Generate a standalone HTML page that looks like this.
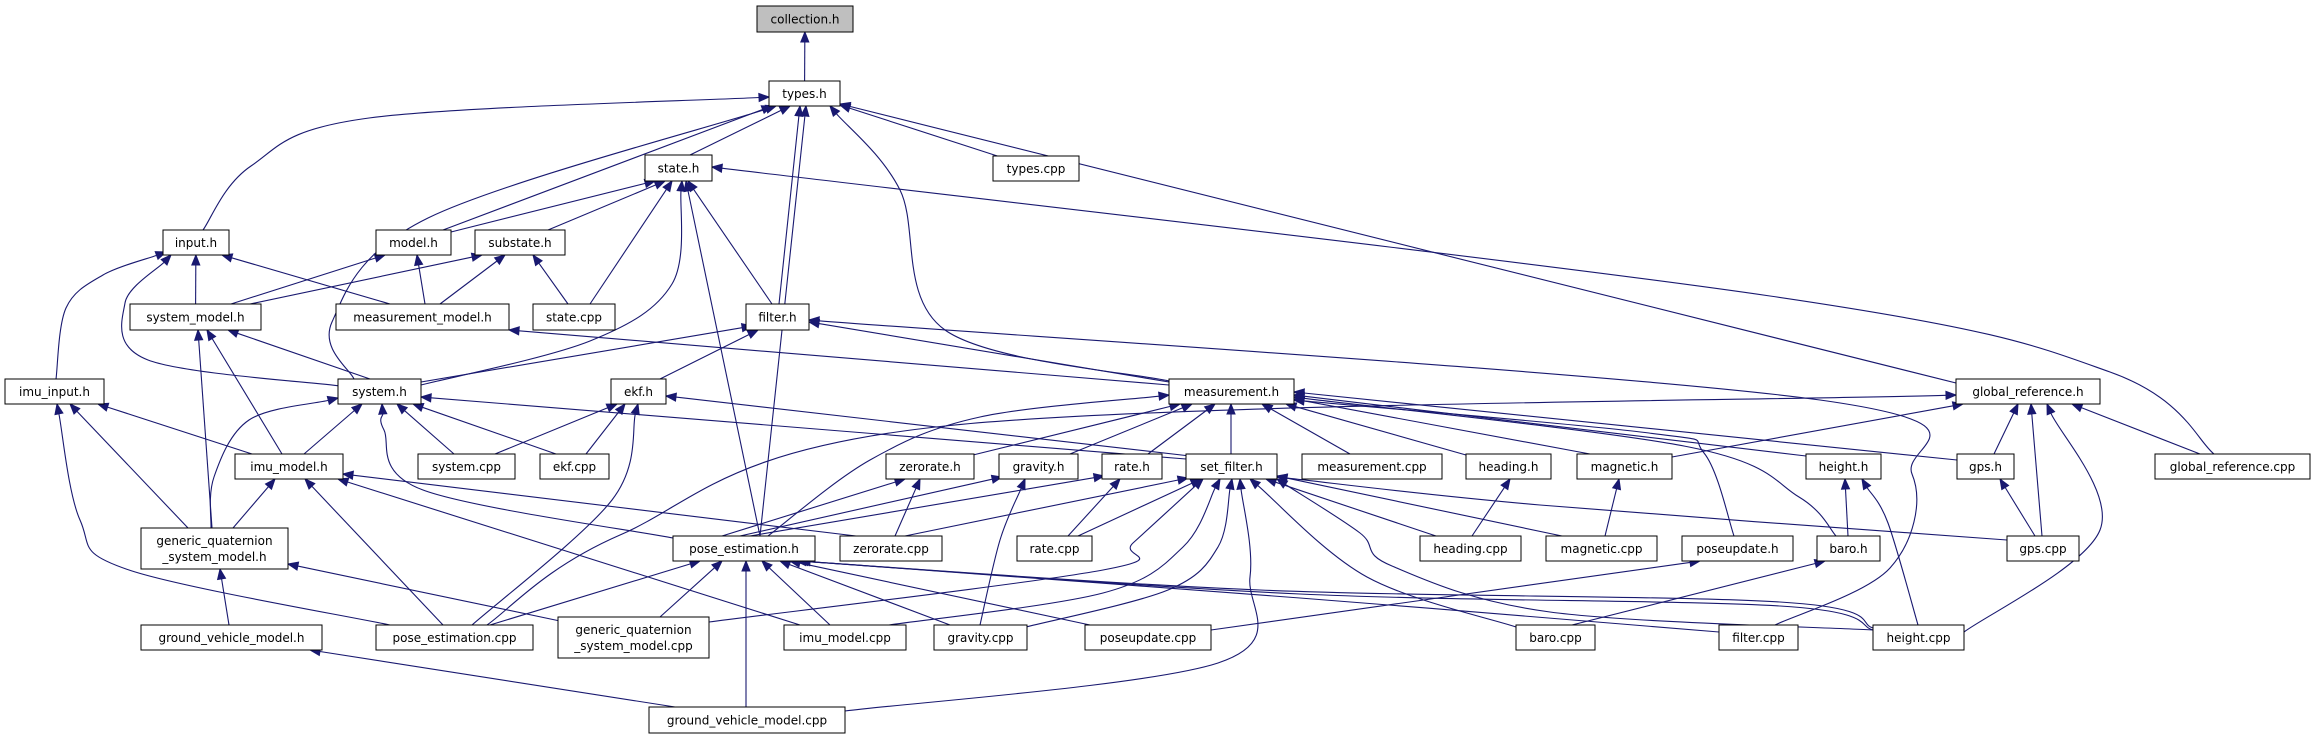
<!DOCTYPE html>
<html><head><meta charset="utf-8">
<style>
html,body{margin:0;padding:0;background:#fff;}
svg{display:block;}
text{font-family:"DejaVu Sans","Liberation Sans",sans-serif;font-size:12px;fill:#000;}
</style></head>
<body>
<svg id="g" width="2315" height="739" viewBox="0 0 2315 739" xmlns="http://www.w3.org/2000/svg">
<g id="edges"></g>
<g id="nodes" font-family="DejaVu Sans, Liberation Sans, sans-serif">
<rect x="757" y="6" width="96" height="26" fill="#bfbfbf" stroke="#000"/><text x="805" y="23.5" text-anchor="middle">collection.h</text>
<rect x="769" y="81" width="71" height="25" fill="#fff" stroke="#000"/><text x="804.5" y="98" text-anchor="middle">types.h</text>
<rect x="645" y="155" width="67" height="26" fill="#fff" stroke="#000"/><text x="678.5" y="172.5" text-anchor="middle">state.h</text>
<rect x="993" y="156" width="86" height="25" fill="#fff" stroke="#000"/><text x="1036" y="173" text-anchor="middle">types.cpp</text>
<rect x="163" y="230" width="66" height="25" fill="#fff" stroke="#000"/><text x="196" y="247" text-anchor="middle">input.h</text>
<rect x="376" y="230" width="75" height="25" fill="#fff" stroke="#000"/><text x="413.5" y="247" text-anchor="middle">model.h</text>
<rect x="475" y="230" width="90" height="25" fill="#fff" stroke="#000"/><text x="520" y="247" text-anchor="middle">substate.h</text>
<rect x="130" y="304" width="131" height="26" fill="#fff" stroke="#000"/><text x="195.5" y="321.5" text-anchor="middle">system_model.h</text>
<rect x="336" y="304" width="173" height="26" fill="#fff" stroke="#000"/><text x="422.5" y="321.5" text-anchor="middle">measurement_model.h</text>
<rect x="533" y="304" width="82" height="26" fill="#fff" stroke="#000"/><text x="574" y="321.5" text-anchor="middle">state.cpp</text>
<rect x="746" y="304" width="63" height="26" fill="#fff" stroke="#000"/><text x="777.5" y="321.5" text-anchor="middle">filter.h</text>
<rect x="5" y="379" width="99" height="25" fill="#fff" stroke="#000"/><text x="54.5" y="396" text-anchor="middle">imu_input.h</text>
<rect x="338" y="379" width="83" height="25" fill="#fff" stroke="#000"/><text x="379.5" y="396" text-anchor="middle">system.h</text>
<rect x="611" y="379" width="55" height="25" fill="#fff" stroke="#000"/><text x="638.5" y="396" text-anchor="middle">ekf.h</text>
<rect x="1169" y="379" width="125" height="25" fill="#fff" stroke="#000"/><text x="1231.5" y="396" text-anchor="middle">measurement.h</text>
<rect x="1956" y="379" width="144" height="25" fill="#fff" stroke="#000"/><text x="2028" y="396" text-anchor="middle">global_reference.h</text>
<rect x="235" y="454" width="108" height="25" fill="#fff" stroke="#000"/><text x="289" y="471" text-anchor="middle">imu_model.h</text>
<rect x="418" y="454" width="97" height="25" fill="#fff" stroke="#000"/><text x="466.5" y="471" text-anchor="middle">system.cpp</text>
<rect x="540" y="454" width="69" height="25" fill="#fff" stroke="#000"/><text x="574.5" y="471" text-anchor="middle">ekf.cpp</text>
<rect x="886" y="454" width="88" height="25" fill="#fff" stroke="#000"/><text x="930" y="471" text-anchor="middle">zerorate.h</text>
<rect x="999" y="454" width="79" height="25" fill="#fff" stroke="#000"/><text x="1038.5" y="471" text-anchor="middle">gravity.h</text>
<rect x="1102" y="454" width="60" height="25" fill="#fff" stroke="#000"/><text x="1132" y="471" text-anchor="middle">rate.h</text>
<rect x="1186" y="454" width="91" height="25" fill="#fff" stroke="#000"/><text x="1231.5" y="471" text-anchor="middle">set_filter.h</text>
<rect x="1302" y="454" width="140" height="25" fill="#fff" stroke="#000"/><text x="1372" y="471" text-anchor="middle">measurement.cpp</text>
<rect x="1466" y="454" width="85" height="25" fill="#fff" stroke="#000"/><text x="1508.5" y="471" text-anchor="middle">heading.h</text>
<rect x="1577" y="454" width="95" height="25" fill="#fff" stroke="#000"/><text x="1624.5" y="471" text-anchor="middle">magnetic.h</text>
<rect x="1806" y="454" width="75" height="25" fill="#fff" stroke="#000"/><text x="1843.5" y="471" text-anchor="middle">height.h</text>
<rect x="1957" y="454" width="57" height="25" fill="#fff" stroke="#000"/><text x="1985.5" y="471" text-anchor="middle">gps.h</text>
<rect x="2155" y="454" width="155" height="25" fill="#fff" stroke="#000"/><text x="2232.5" y="471" text-anchor="middle">global_reference.cpp</text>
<rect x="141" y="528" width="147" height="41" fill="#fff" stroke="#000"/><text x="214.5" y="545" text-anchor="middle">generic_quaternion</text><text x="214.5" y="561" text-anchor="middle">_system_model.h</text>
<rect x="673" y="536" width="142" height="25" fill="#fff" stroke="#000"/><text x="744" y="553" text-anchor="middle">pose_estimation.h</text>
<rect x="840" y="536" width="102" height="25" fill="#fff" stroke="#000"/><text x="891" y="553" text-anchor="middle">zerorate.cpp</text>
<rect x="1017" y="536" width="75" height="25" fill="#fff" stroke="#000"/><text x="1054.5" y="553" text-anchor="middle">rate.cpp</text>
<rect x="1420" y="536" width="101" height="25" fill="#fff" stroke="#000"/><text x="1470.5" y="553" text-anchor="middle">heading.cpp</text>
<rect x="1546" y="536" width="111" height="25" fill="#fff" stroke="#000"/><text x="1601.5" y="553" text-anchor="middle">magnetic.cpp</text>
<rect x="1682" y="536" width="111" height="25" fill="#fff" stroke="#000"/><text x="1737.5" y="553" text-anchor="middle">poseupdate.h</text>
<rect x="1817" y="536" width="63" height="25" fill="#fff" stroke="#000"/><text x="1848.5" y="553" text-anchor="middle">baro.h</text>
<rect x="2007" y="536" width="72" height="25" fill="#fff" stroke="#000"/><text x="2043" y="553" text-anchor="middle">gps.cpp</text>
<rect x="141" y="625" width="181" height="25" fill="#fff" stroke="#000"/><text x="231.5" y="642" text-anchor="middle">ground_vehicle_model.h</text>
<rect x="376" y="625" width="157" height="25" fill="#fff" stroke="#000"/><text x="454.5" y="642" text-anchor="middle">pose_estimation.cpp</text>
<rect x="558" y="617" width="151" height="41" fill="#fff" stroke="#000"/><text x="633.5" y="634" text-anchor="middle">generic_quaternion</text><text x="633.5" y="650" text-anchor="middle">_system_model.cpp</text>
<rect x="784" y="625" width="122" height="25" fill="#fff" stroke="#000"/><text x="845" y="642" text-anchor="middle">imu_model.cpp</text>
<rect x="934" y="625" width="93" height="25" fill="#fff" stroke="#000"/><text x="980.5" y="642" text-anchor="middle">gravity.cpp</text>
<rect x="1085" y="625" width="126" height="25" fill="#fff" stroke="#000"/><text x="1148" y="642" text-anchor="middle">poseupdate.cpp</text>
<rect x="1516" y="625" width="79" height="25" fill="#fff" stroke="#000"/><text x="1555.5" y="642" text-anchor="middle">baro.cpp</text>
<rect x="1719" y="625" width="79" height="25" fill="#fff" stroke="#000"/><text x="1758.5" y="642" text-anchor="middle">filter.cpp</text>
<rect x="1873" y="625" width="91" height="25" fill="#fff" stroke="#000"/><text x="1918.5" y="642" text-anchor="middle">height.cpp</text>
<rect x="649" y="707" width="196" height="26" fill="#fff" stroke="#000"/><text x="747" y="724.5" text-anchor="middle">ground_vehicle_model.cpp</text>
</g>
</svg>
<script>
var N={
collection:[757,6,853,32],types:[769,81,840,106],state:[645,155,712,181],typescpp:[993,156,1079,181],
input:[163,230,229,255],model:[376,230,451,255],substate:[475,230,565,255],
system_model:[130,304,261,330],measurement_model:[336,304,509,330],statecpp:[533,304,615,330],filter:[746,304,809,330],
imu_input:[5,379,104,404],system:[338,379,421,404],ekf:[611,379,666,404],measurement:[1169,379,1294,404],global_reference:[1956,379,2100,404],
imu_model:[235,454,343,479],systemcpp:[418,454,515,479],ekfcpp:[540,454,609,479],zerorate:[886,454,974,479],gravity:[999,454,1078,479],
rate:[1102,454,1162,479],set_filter:[1186,454,1277,479],measurementcpp:[1302,454,1442,479],heading:[1466,454,1551,479],
magnetic:[1577,454,1672,479],height:[1806,454,1881,479],gps:[1957,454,2014,479],grcpp:[2155,454,2310,479],
gqsm_h:[141,528,288,569],pose:[673,536,815,561],zeroratecpp:[840,536,942,561],ratecpp:[1017,536,1092,561],
headingcpp:[1420,536,1521,561],magneticcpp:[1546,536,1657,561],poseupdate:[1682,536,1793,561],baro:[1817,536,1880,561],gpscpp:[2007,536,2079,561],
gvm_h:[141,625,322,650],posecpp:[376,625,533,650],gqsm_cpp:[558,617,709,658],imu_model_cpp:[784,625,906,650],
gravitycpp:[934,625,1027,650],poseupdatecpp:[1085,625,1211,650],barocpp:[1516,625,1595,650],filtercpp:[1719,625,1798,650],
heightcpp:[1873,625,1964,650],gvm_cpp:[649,707,845,733]};
var E=[
['types','collection'],
['state','types',[],[690,155],[790,106]],
['typescpp','types'],
['input','types',[[251,166],[369,118]],[203,230],[769,97]],
['model','types',[],[443,230],[772,106]],
['system','types',[[332,322],[428,218]],[354,379],[776,106]],
['filter','types',[],[779,304],[800,106]],
['pose','types',[],[760,536],[806,106]],
['measurement','types',[[945,330],[900,190]],[1169,381],[830,106]],
['global_reference','types',[],[1956,383],[840,104]],
['grcpp','state',[[2110,372],[1770,296]],[2214,454],[712,167]],
['model','state',[],[451,232],[655,181]],
['substate','state',[],[548,230],[665,181]],
['statecpp','state',[],[590,304],[672,181]],
['filter','state',[],[772,304],[688,181]],
['system','state',[[590,341],[672,284]],[421,385],[682,181]],
['pose','state',[],[760,536],[686,181]],
['system_model','input'],
['measurement_model','input',[],[390,304],[222,255]],
['system','input',[[148,360],[125,303]],[340,386],[171,255]],
['imu_input','input',[[66,308],[103,275]],[56,379],[166,252]],
['system_model','model',[],[231,304],[385,255]],
['measurement_model','model',[],[425,304],[417,255]],
['system_model','substate',[],[250,304],[482,255]],
['measurement_model','substate',[],[440,304],[505,255]],
['statecpp','substate',[],[568,304],[533,255]],
['system','system_model',[],[370,379],[228,330]],
['gqsm_h','system_model',[],[212,528],[198,330]],
['imu_model','system_model',[],[282,454],[207,330]],
['measurement','measurement_model',[],[1169,385],[509,330]],
['system','filter',[],[421,382],[752,326]],
['ekf','filter',[],[660,379],[758,330]],
['measurement','filter',[],[1169,382],[809,322]],
['filtercpp','filter',[[1890,568],[1912,474],[1820,400]],[1775,625],[809,320]],
['systemcpp','system',[],[454,454],[397,404]],
['ekfcpp','system',[],[556,454],[413,404]],
['imu_model','system',[],[304,454],[362,404]],
['gqsm_h','system',[[214,477],[249,420]],[211,528],[338,398]],
['pose','system',[[423,490],[384,430]],[673,538],[382,404]],
['set_filter','system',[],[1186,459],[421,397]],
['systemcpp','ekf',[],[495,454],[617,404]],
['ekfcpp','ekf',[],[586,454],[625,404]],
['posecpp','ekf',[[612,500]],[472,625],[638,404]],
['set_filter','ekf',[],[1190,456],[666,396]],
['imu_model','imu_input',[],[252,454],[98,404]],
['gqsm_h','imu_input',[],[188,528],[70,404]],
['posecpp','imu_input',[[129,570],[80,520]],[390,625],[57,404]],
['gqsm_h','imu_model',[],[233,528],[275,479]],
['posecpp','imu_model',[],[443,625],[305,479]],
['imu_model_cpp','imu_model',[],[800,625],[338,479]],
['zeroratecpp','imu_model',[],[856,536],[343,474]],
['gvm_h','gqsm_h',[],[229,625],[220,569]],
['gqsm_cpp','gqsm_h',[],[560,621],[288,564]],
['gvm_cpp','gvm_h',[],[675,707],[310,650]],
['zerorate','measurement',[],[973,455],[1180,404]],
['gravity','measurement',[],[1070,454],[1192,404]],
['rate','measurement',[],[1148,454],[1215,404]],
['set_filter','measurement',[],[1231,454],[1231,404]],
['measurementcpp','measurement',[],[1350,454],[1262,404]],
['heading','measurement',[],[1466,455],[1286,404]],
['magnetic','measurement',[],[1590,454],[1294,399]],
['height','measurement',[],[1806,456],[1294,395]],
['gps','measurement',[],[1957,460],[1294,392]],
['baro','measurement',[[1799,497],[1689,447]],[1836,536],[1294,397]],
['poseupdate','measurement',[[1704,453],[1649,433]],[1734,536],[1294,400]],
['pose','measurement',[[870,460],[980,417]],[768,536],[1169,395]],
['gps','global_reference',[],[1994,454],[2018,404]],
['gpscpp','global_reference',[],[2042,536],[2031,404]],
['heightcpp','global_reference',[[2100,530]],[1964,632],[2047,404]],
['grcpp','global_reference',[],[2200,454],[2072,404]],
['magnetic','global_reference',[],[1672,457],[1963,404]],
['posecpp','global_reference',[[620,535],[945,426]],[487,625],[1956,395]],
['gpscpp','gps',[],[2035,536],[2000,479]],
['baro','height',[],[1848,536],[1845,479]],
['heightcpp','height',[[1888,523]],[1918,625],[1862,479]],
['barocpp','baro',[],[1572,625],[1825,561]],
['poseupdatecpp','poseupdate',[],[1211,630],[1700,561]],
['headingcpp','heading',[],[1472,536],[1510,479]],
['magneticcpp','magnetic',[],[1605,536],[1619,479]],
['zeroratecpp','zerorate',[],[895,536],[920,479]],
['pose','zerorate',[],[722,536],[905,479]],
['pose','gravity',[],[740,536],[1002,477]],
['gravitycpp','gravity',[[1000,540]],[980,625],[1025,479]],
['pose','rate',[],[750,536],[1104,476]],
['ratecpp','rate',[],[1068,536],[1120,479]],
['zeroratecpp','set_filter',[],[905,536],[1188,478]],
['ratecpp','set_filter',[],[1078,536],[1201,479]],
['gqsm_cpp','set_filter',[[1103,570],[1133,543]],[709,622],[1203,479]],
['imu_model_cpp','set_filter',[[1103,593],[1183,547]],[889,625],[1220,479]],
['gravitycpp','set_filter',[[1168,590],[1218,547]],[1026,627],[1232,479]],
['gvm_cpp','set_filter',[[1218,663],[1250,577]],[845,711],[1240,479]],
['barocpp','set_filter',[[1367,577]],[1516,627],[1250,479]],
['headingcpp','set_filter',[],[1436,536],[1266,479]],
['magneticcpp','set_filter',[],[1562,536],[1277,476]],
['gpscpp','set_filter',[[1540,505]],[2007,540],[1277,477]],
['heightcpp','set_filter',[[1550,612],[1392,566],[1360,533]],[1873,630],[1277,479]],
['posecpp','pose',[],[490,625],[700,561]],
['gqsm_cpp','pose',[],[660,617],[722,561]],
['gvm_cpp','pose',[],[746,707],[746,561]],
['imu_model_cpp','pose',[],[830,625],[762,561]],
['gravitycpp','pose',[],[950,625],[780,561]],
['poseupdatecpp','pose',[],[1090,625],[790,561]],
['filtercpp','pose',[[1300,598]],[1719,632],[800,561]],
['heightcpp','pose',[[1780,606],[1300,594]],[1873,630],[798,561]],
['heightcpp','pose',[[1780,602],[1260,590]],[1873,628],[796,561]]
];
function cen(b){return [(b[0]+b[2])/2,(b[1]+b[3])/2];}
function clip(b,p){var c=cen(b),dx=p[0]-c[0],dy=p[1]-c[1],hw=(b[2]-b[0])/2,hh=(b[3]-b[1])/2;
var t=Math.min(dx?hw/Math.abs(dx):1e9,dy?hh/Math.abs(dy):1e9);return [c[0]+dx*t,c[1]+dy*t];}
var out='';var C='#191970';
E.forEach(function(e){
 var ch=N[e[0]],pa=N[e[1]],wp=e[2]||[];
 var s=e[3],t=e[4];
 if(!s){var tc=wp.length?wp[0]:cen(pa);s=clip(ch,tc);}
 if(!t){var sc=wp.length?wp[wp.length-1]:cen(ch);t=clip(pa,sc);}
 var pts=[s].concat(wp);
 var prev=pts[pts.length-1];
 var dx=t[0]-prev[0],dy=t[1]-prev[1],L=Math.sqrt(dx*dx+dy*dy)||1;
 var ux=dx/L,uy=dy/L,AL=10,AW=4;
 var base=[t[0]-ux*AL,t[1]-uy*AL];
 var P=pts.concat([base]);
 var d='M'+P[0][0].toFixed(1)+','+P[0][1].toFixed(1);
 if(P.length==2){d+=' L'+P[1][0].toFixed(1)+','+P[1][1].toFixed(1);}
 else{
  for(var i=0;i<P.length-1;i++){
   var p0=P[i-1]||P[i],p1=P[i],p2=P[i+1],p3=P[i+2]||P[i+1];
   var c1=[p1[0]+(p2[0]-p0[0])/6,p1[1]+(p2[1]-p0[1])/6];
   var c2=[p2[0]-(p3[0]-p1[0])/6,p2[1]-(p3[1]-p1[1])/6];
   d+=' C'+c1[0].toFixed(1)+','+c1[1].toFixed(1)+' '+c2[0].toFixed(1)+','+c2[1].toFixed(1)+' '+p2[0].toFixed(1)+','+p2[1].toFixed(1);
  }
 }
 out+='<path d="'+d+'" fill="none" stroke="'+C+'" stroke-width="1.1"/>';
 var a1=[base[0]-uy*AW,base[1]+ux*AW],a2=[base[0]+uy*AW,base[1]-ux*AW];
 out+='<polygon points="'+t[0].toFixed(1)+','+t[1].toFixed(1)+' '+a1[0].toFixed(1)+','+a1[1].toFixed(1)+' '+a2[0].toFixed(1)+','+a2[1].toFixed(1)+'" fill="'+C+'" stroke="'+C+'"/>';
});
document.getElementById('edges').innerHTML=out;
</script>
</body></html>
